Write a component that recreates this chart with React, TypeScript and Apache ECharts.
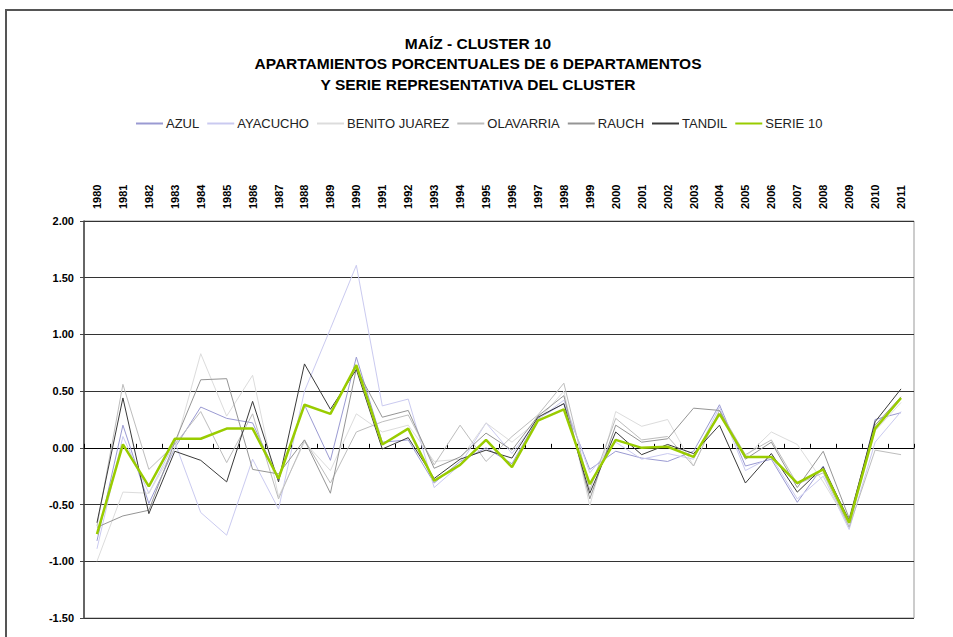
import React, { useEffect, useRef } from "react";
import * as echarts from "echarts";

const years = [
  "1980","1981","1982","1983","1984","1985","1986","1987","1988","1989",
  "1990","1991","1992","1993","1994","1995","1996","1997","1998","1999",
  "2000","2001","2002","2003","2004","2005","2006","2007","2008","2009",
  "2010","2011",
];

const yTicks = [-1.5, -1.0, -0.5, 0, 0.5, 1.0, 1.5, 2.0];

const azul = [-0.82, 0.20, -0.49, 0.00, 0.36, 0.26, 0.22, -0.28, 0.38, -0.11, 0.80, 0.05, 0.07, -0.31, -0.12, 0.00, -0.14, 0.26, 0.39, -0.19, -0.03, -0.09, -0.12, -0.03, 0.38, -0.16, -0.10, -0.48, -0.16, -0.70, 0.25, 0.31];
const ayacucho = [-0.89, 0.10, -0.40, 0.05, -0.57, -0.77, -0.10, -0.54, 0.50, 1.05, 1.61, 0.37, 0.43, -0.35, -0.15, 0.22, -0.05, 0.25, 0.42, -0.22, 0.05, -0.10, -0.05, -0.10, 0.36, -0.20, -0.08, -0.45, -0.25, -0.72, 0.05, 0.32];
const benitoJuarez = [-1.00, -0.39, -0.40, 0.00, 0.83, 0.28, 0.64, -0.43, 0.05, -0.20, 0.30, 0.14, 0.20, -0.12, -0.10, 0.22, 0.05, 0.24, 0.50, -0.51, 0.32, 0.19, 0.25, -0.16, 0.33, -0.08, 0.14, 0.03, -0.30, -0.68, 0.15, 0.40];
const olavarria = [-0.69, 0.56, -0.19, 0.03, 0.32, -0.13, 0.30, -0.45, 0.07, -0.31, 0.14, 0.23, 0.29, -0.15, 0.20, -0.12, 0.10, 0.29, 0.57, -0.37, 0.26, 0.07, 0.10, -0.16, 0.33, -0.06, 0.07, -0.32, -0.22, -0.70, -0.02, -0.06];
const rauch = [-0.70, -0.60, -0.55, 0.05, 0.60, 0.61, -0.19, -0.23, 0.07, -0.40, 0.70, 0.27, 0.33, -0.18, -0.08, 0.13, -0.02, 0.28, 0.46, -0.45, 0.20, 0.05, 0.08, 0.35, 0.33, -0.10, 0.05, -0.35, -0.03, -0.62, 0.20, 0.45];
const tandil = [-0.66, 0.44, -0.58, -0.03, -0.11, -0.30, 0.41, -0.30, 0.74, 0.34, 0.69, -0.01, 0.09, -0.27, -0.10, -0.02, -0.09, 0.27, 0.39, -0.40, 0.14, -0.06, 0.03, -0.05, 0.20, -0.31, -0.05, -0.39, -0.17, -0.64, 0.23, 0.52];
const serie10 = [-0.76, 0.03, -0.34, 0.08, 0.08, 0.17, 0.17, -0.27, 0.38, 0.30, 0.73, 0.03, 0.17, -0.29, -0.15, 0.07, -0.17, 0.24, 0.34, -0.32, 0.07, 0.00, 0.01, -0.08, 0.30, -0.08, -0.08, -0.31, -0.19, -0.66, 0.17, 0.44];

const seriesDefs = [
  { name: "AZUL", data: azul, color: "#9a9ad2", width: 1 },
  { name: "AYACUCHO", data: ayacucho, color: "#cacaf0", width: 1 },
  { name: "BENITO JUAREZ", data: benitoJuarez, color: "#dcdcdc", width: 1 },
  { name: "OLAVARRIA", data: olavarria, color: "#bdbdbd", width: 1 },
  { name: "RAUCH", data: rauch, color: "#959595", width: 1 },
  { name: "TANDIL", data: tandil, color: "#3a3a3a", width: 1 },
  { name: "SERIE 10", data: serie10, color: "#99cc00", width: 2.5 },
];

const FONT = "Liberation Sans, Arial, sans-serif";

export default function App() {
  const ref = useRef<HTMLDivElement>(null);
  useEffect(() => {
    if (!ref.current) return;
    const chart = echarts.init(ref.current, null, { renderer: "svg" });
    chart.setOption({
      animation: false,
      backgroundColor: "#ffffff",
      title: {
        text: "MAÍZ - CLUSTER 10\nAPARTAMIENTOS PORCENTUALES DE 6 DEPARTAMENTOS\nY SERIE REPRESENTATIVA DEL CLUSTER",
        left: 473,
        top: 28,
        textAlign: "center",
        textStyle: {
          fontFamily: FONT,
          fontSize: 15.5,
          fontWeight: "bold",
          color: "#000",
          lineHeight: 20.5,
        },
      },
      legend: {
        top: 112,
        left: 130,
        itemWidth: 27,
        itemHeight: 10,
        itemGap: 7,
        itemStyle: { opacity: 0 },
        textStyle: { fontFamily: FONT, fontSize: 13, color: "#222", padding: [0, 0, 0, -2] },
        data: seriesDefs.map((s) => s.name),
      },
      graphic: [
        {
          type: "rect",
          shape: { x: 6, y: 10, width: 1100, height: 1000 },
          style: { fill: "none", stroke: "#555", lineWidth: 2 },
          silent: true,
          z: 100,
        },
      ],
      grid: {
        left: 84,
        right: 39,
        top: 221,
        bottom: 19,
        show: true,
        borderColor: "#999",
        borderWidth: 1,
        containLabel: false,
      },
      xAxis: {
        type: "category",
        position: "top",
        data: years,
        boundaryGap: true,
        axisLine: { show: true, lineStyle: { color: "#000", width: 1 } },
        axisTick: { show: true, length: 4, inside: false, lineStyle: { color: "#000" } },
        axisLabel: {
          rotate: 90,
          interval: 0,
          margin: 12,
          fontFamily: FONT,
          fontSize: 11,
          fontWeight: "bold",
          color: "#000",
        },
        splitLine: { show: false },
      },
      yAxis: {
        type: "value",
        min: yTicks[0],
        max: yTicks[yTicks.length - 1],
        interval: 0.5,
        axisLine: { show: true, lineStyle: { color: "#444", width: 1.5 } },
        axisTick: { show: true, length: 4, inside: false, lineStyle: { color: "#444" } },
        axisLabel: {
          margin: 10,
          fontFamily: FONT,
          fontSize: 11,
          fontWeight: "bold",
          color: "#000",
          formatter: (v: number) => v.toFixed(2),
        },
        splitLine: { show: true, lineStyle: { color: "#333", width: 1 } },
      },
      series: seriesDefs.map((s, i) => ({
        name: s.name,
        type: "line",
        data: s.data,
        symbol: "none",
        showSymbol: false,
        color: s.color,
        lineStyle: { color: s.color, width: s.width },
        z: 2 + i,
      })),
    });
    return () => chart.dispose();
  }, []);
  return (
    <div
      ref={ref}
      style={{ position: "fixed", left: 0, top: 0, width: 953, height: 637 }}
    />
  );
}
